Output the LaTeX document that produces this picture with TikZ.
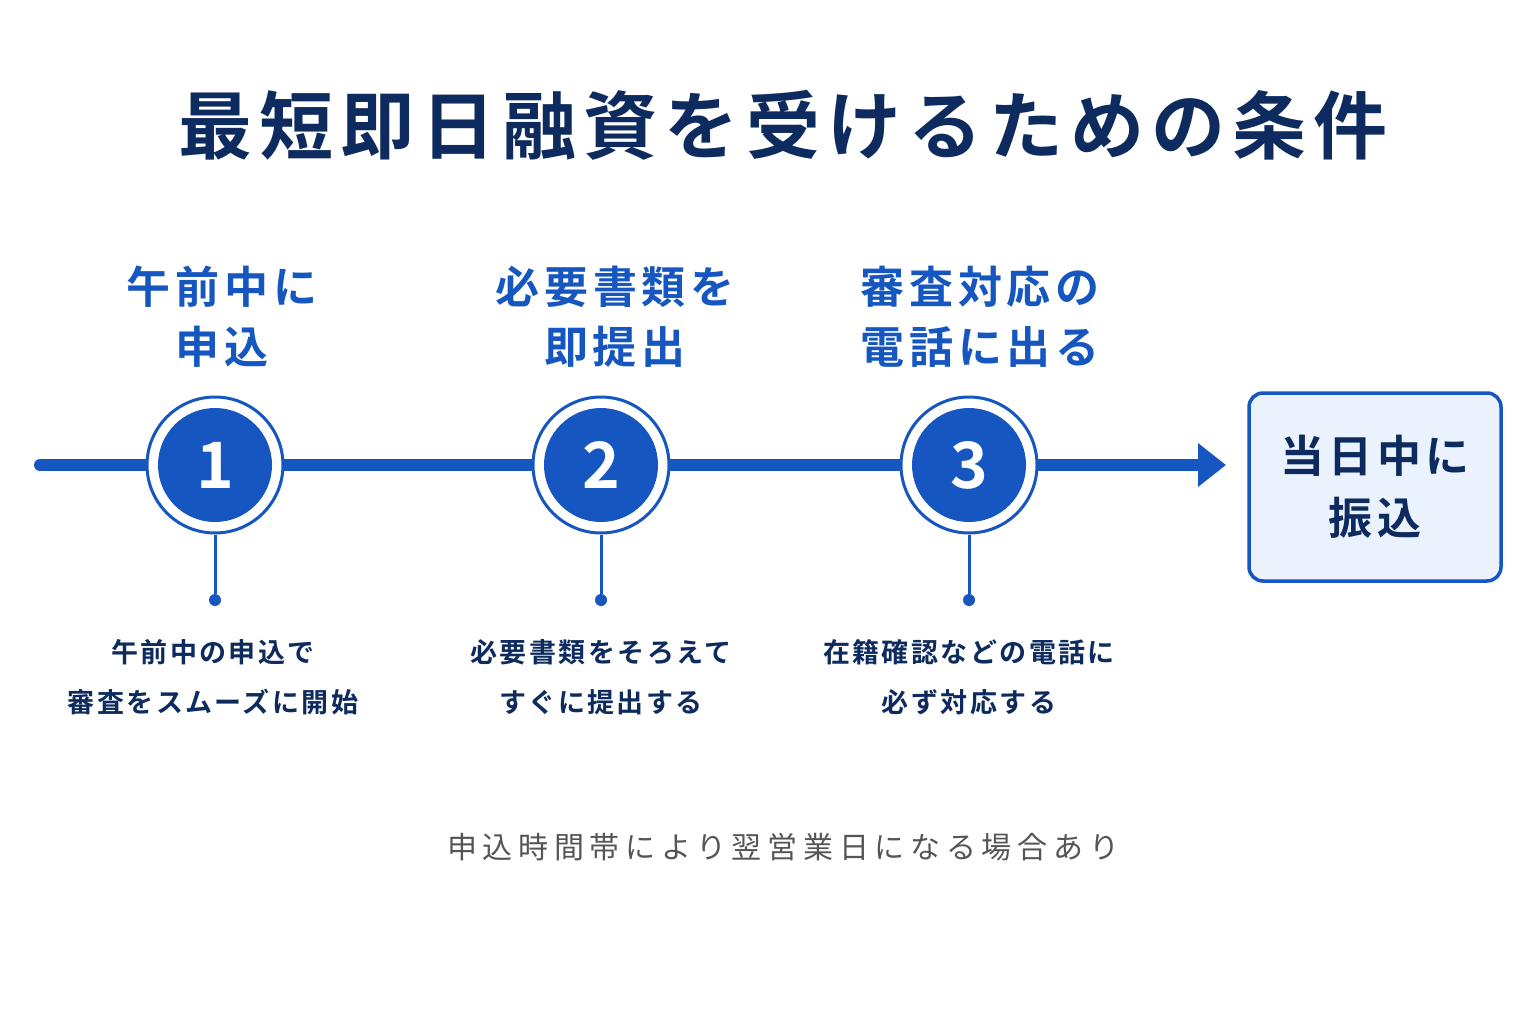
\documentclass[tikz,border=0pt]{standalone}
\usepackage{fontspec}
\setmainfont{Noto Sans CJK JP}
\newfontfamily\cjkb{Noto Sans CJK JP Bold}
\usetikzlibrary{arrows.meta}
\definecolor{navy}{HTML}{0D2B5E}
\definecolor{blu}{HTML}{1656C0}
\definecolor{lblue}{HTML}{EAF2FD}
\definecolor{gry}{HTML}{555555}
\begin{document}
\begin{tikzpicture}[x=1pt,y=-1pt,
 lab/.style={text=blu,font=\cjkb\fontsize{44}{60}\selectfont\addfontfeature{LetterSpace=11},align=center},
 desc/.style={text=navy,font=\cjkb\fontsize{27}{50}\selectfont\addfontfeature{LetterSpace=9},align=center},
 ring/.style={circle,draw=blu,line width=3pt,fill=white,minimum size=136pt},
 num/.style={circle,fill=blu,minimum size=114pt,text=white,font=\cjkb\fontsize{64}{60}\selectfont},
 dot/.style={circle,fill=blu,inner sep=0,minimum size=12pt}]
\useasboundingbox (0,0) rectangle (1536,1024);
\fill[white] (0,0) rectangle (1536,1024);
\node[text=navy,font=\cjkb\fontsize{74}{80}\selectfont\addfontfeature{LetterSpace=9.5}] (title) at (783,125) {最短即日融資を受けるための条件};
\coordinate (s) at (40,465);
\coordinate (e) at (1226,465);
\draw[blu,line width=12pt,line cap=round,-{Triangle[length=28pt,width=42pt]}] (s) -- (e);
\foreach \i/\x in {1/215,2/601,3/969}{
 \node[ring] (r\i) at (\x,465) {};
 \node[num] (n\i) at (\x,465) {\i};
 \node[dot] (d\i) at (\x,600) {};
 \draw[blu,line width=3pt] (r\i.south) -- (d\i);
}
\node[lab] (l1) at (222,317) {午前中に\\申込};
\node[lab] (l2) at (615,317) {必要書類を\\即提出};
\node[lab] (l3) at (980,317) {審査対応の\\電話に出る};
\node[desc] (t1) at (213,677) {午前中の申込で\\審査をスムーズに開始};
\node[desc] (t2) at (601,677) {必要書類をそろえて\\すぐに提出する};
\node[desc] (t3) at (969,677) {在籍確認などの電話に\\必ず対応する};
\node[draw=blu,line width=3.5pt,fill=lblue,rounded corners=14pt,minimum width=252pt,minimum height=188pt,text=navy,font=\cjkb\fontsize{44}{62}\selectfont\addfontfeature{LetterSpace=10},align=center] (goal) at (1375,487) {当日中に\\振込};
\node[text=gry,font=\fontsize{30}{36}\selectfont\addfontfeature{LetterSpace=19}] (foot) at (783,847) {申込時間帯により翌営業日になる場合あり};
\end{tikzpicture}
\end{document}
